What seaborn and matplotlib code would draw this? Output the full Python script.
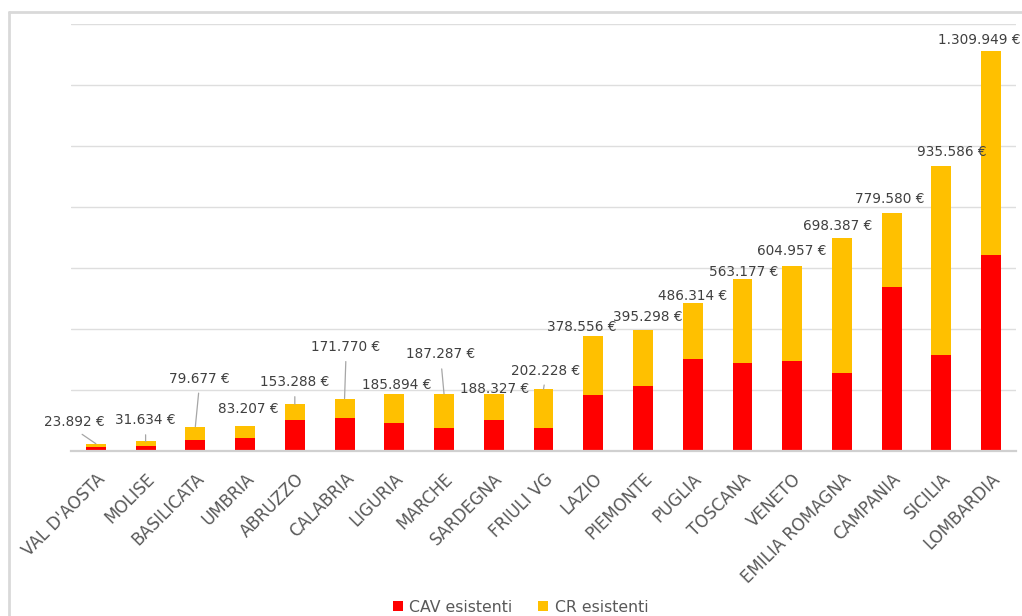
import matplotlib
matplotlib.use("Agg")
import matplotlib.pyplot as plt
from matplotlib.lines import Line2D
from matplotlib.patches import Patch
import seaborn as sns
import pandas as pd
import numpy as np

regioni = ["VAL D'AOSTA", "MOLISE", "BASILICATA", "UMBRIA", "ABRUZZO", "CALABRIA",
           "LIGURIA", "MARCHE", "SARDEGNA", "FRIULI VG", "LAZIO", "PIEMONTE",
           "PUGLIA", "TOSCANA", "VENETO", "EMILIA ROMAGNA", "CAMPANIA", "SICILIA",
           "LOMBARDIA"]
totale = [23892, 31634, 79677, 83207, 153288, 171770, 185894, 187287, 188327,
          202228, 378556, 395298, 486314, 563177, 604957, 698387, 779580, 935586,
          1309949]
cav_esistenti = [12000, 15700, 37700, 43300, 103000, 109500, 91000, 75500, 101700,
                 75500, 183600, 212000, 303000, 287600, 294000, 255800, 537800,
                 313800, 642700]
cr_esistenti = [t - c for t, c in zip(totale, cav_esistenti)]
etichette = ["23.892 €", "31.634 €", "79.677 €", "83.207 €", "153.288 €", "171.770 €",
             "185.894 €", "187.287 €", "188.327 €", "202.228 €", "378.556 €",
             "395.298 €", "486.314 €", "563.177 €", "604.957 €", "698.387 €",
             "779.580 €", "935.586 €", "1.309.949 €"]

# label layout (pixel offsets of label centre from bar top, leader line flag)
label_dx = [-22, 0, 4, 3, 0, 1.5, 2.7, -3, 0.7, 1.8, -12, 5, 0, 1.5, 0, -4, -1.5, 10, -12]
label_dy = [23, 22, 49, 18, 23, 52.5, 10.5, 40.4, 5.6, 19.7, 10, 14, 7.5, 8.3, 16, 13, 15, 14.5, 12]
leader = [True, True, True, False, True, True, False, True, False, True,
          False, False, False, False, False, False, False, False, False]

RED = "#FF0000"
YEL = "#FFC000"
GRID = "#D9D9D9"
TXT = "#595959"

df = pd.DataFrame({"regione": regioni, "totale": totale, "cav": cav_esistenti,
                   "cr": cr_esistenti})

sns.set_style("white")
plt.rcParams["font.family"] = ["DejaVu Sans"]

W, H = 1022, 616
fig = plt.figure(figsize=(W / 100, H / 100), dpi=100)
ax = fig.add_axes([71 / W, 1 - 451 / H, (1016 - 71) / W, (451 - 24) / H])

sns.barplot(data=df, x="regione", y="totale", color=YEL, width=0.4, ax=ax,
            saturation=1, edgecolor="none", linewidth=0)
sns.barplot(data=df, x="regione", y="cav", color=RED, width=0.4, ax=ax,
            saturation=1, edgecolor="none", linewidth=0)

ax.set_ylim(0, 1400000)
ax.set_xlim(-0.5, len(regioni) - 0.5)
ax.set_yticks(np.arange(0, 1400001, 200000))
ax.yaxis.grid(True, color="#DEDEDE", linewidth=1)
ax.set_axisbelow(True)
ax.tick_params(axis="y", left=False, labelleft=False)
ax.tick_params(axis="x", bottom=False, pad=10, labelsize=12, labelcolor=TXT)
ax.set_xlabel("")
ax.set_ylabel("")
for s in ["left", "right", "top"]:
    ax.spines[s].set_visible(False)
ax.spines["bottom"].set_color("#D0D0D0")
ax.spines["bottom"].set_linewidth(1.6)

ax.set_xticks(range(len(regioni)))
ax.set_xticklabels(regioni)
plt.setp(ax.get_xticklabels(), rotation=45, ha="right", va="top",
         rotation_mode="anchor")

for i, (tot, lab) in enumerate(zip(totale, etichette)):
    dx, dy = label_dx[i], label_dy[i]
    kw = {}
    if leader[i]:
        kw["arrowprops"] = dict(arrowstyle="-", color="#A6A6A6", lw=0.9,
                                shrinkA=3, shrinkB=0, relpos=(0.5, 0.0))
    ax.annotate(lab, xy=(i, tot), xytext=(dx, dy - 5), textcoords="offset pixels",
                ha="center", va="baseline", fontsize=9.8, color="#404040",
                annotation_clip=False, **kw)

handles = [Patch(facecolor=RED, edgecolor="none", label="CAV esistenti"),
           Patch(facecolor=YEL, edgecolor="none", label="CR esistenti")]
fig.legend(handles=handles, loc="center", bbox_to_anchor=(520.5 / W, 1 - 607 / H),
           ncol=2, frameon=False, fontsize=11.3, labelcolor=TXT,
           handlelength=0.65, handleheight=0.65, handletextpad=0.4,
           columnspacing=1.65, borderaxespad=0, borderpad=0)

# outer chart-area border (partially visible)
fig.add_artist(Line2D([9 / W, 9 / W], [0, 1 - 12 / H], transform=fig.transFigure,
                      color=GRID, lw=2))
fig.add_artist(Line2D([9 / W, 1], [1 - 12 / H, 1 - 12 / H], transform=fig.transFigure,
                      color=GRID, lw=2))

fig.savefig("out.png", dpi=100, facecolor="white")
